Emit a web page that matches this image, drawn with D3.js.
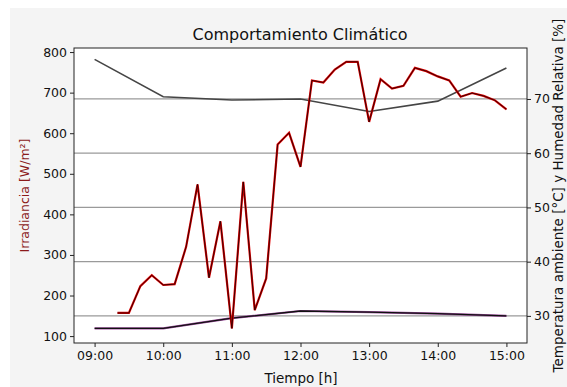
<!DOCTYPE html>
<html>
<head>
<meta charset="utf-8">
<script src="https://cdn.jsdelivr.net/npm/d3@7"></script>
<style>
  html, body { margin: 0; padding: 0; background: #fff; }
  svg { display: block; font-family: "DejaVu Sans", sans-serif; }
</style>
</head>
<body>
<svg id="chart" width="567" height="387"></svg>
<script>
// irradiance, every 10 minutes
const irrTimes = ['09:20','09:30','09:40','09:50','10:00','10:10','10:20','10:30','10:40','10:50',
  '11:00','11:10','11:20','11:30','11:40','11:50','12:00','12:10','12:20','12:30','12:40','12:50',
  '13:00','13:10','13:20','13:30','13:40','13:50','14:00','14:10','14:20','14:30','14:40','14:50','15:00']
const irrValues = [157, 157, 223, 250, 226, 228, 320, 474, 244, 383,
  119, 480, 164, 242, 572, 601, 517, 730, 725, 757, 776, 776,
  628, 733, 710, 717, 761, 753, 740, 730, 690, 699, 692, 681, 659]

// hourly temperature and humidity
const hourTimes = ['09:00','10:00','11:00','12:00','13:00','14:00','15:00']
const tempValues = [27.7, 27.7, 29.6, 30.9, 30.7, 30.4, 30.0]
const humValues = [77.3, 70.4, 69.8, 70.0, 67.7, 69.6, 75.7]

const rightTicks = [30, 40, 50, 60, 70]
const leftTicks = [100, 200, 300, 400, 500, 600, 700, 800]
const xTicks = [9, 10, 11, 12, 13, 14, 15]

const toHours = s => { const [h, m] = s.split(':').map(Number); return h + m / 60 }

const svg = d3.select('#chart')
const W = 567, H = 387
const m = { left: 74, right: 527, top: 48, bottom: 343 }

svg.append('rect').attr('x', 10).attr('y', 8).attr('width', W - 10).attr('height', H - 8).attr('fill', '#f4f4f4')
svg.append('rect').attr('x', m.left).attr('y', m.top)
  .attr('width', m.right - m.left).attr('height', m.bottom - m.top).attr('fill', '#fff')

const x = d3.scaleLinear().domain([8.7, 15.3]).range([m.left, m.right])
const yL = d3.scaleLinear().domain([83, 810]).range([m.bottom, m.top])
const yR = d3.scaleLinear().domain([25, 79.4]).range([m.bottom, m.top])

// grid on the right axis
svg.append('g').selectAll('line').data(rightTicks).join('line')
  .attr('x1', m.left).attr('x2', m.right)
  .attr('y1', d => yR(d)).attr('y2', d => yR(d))
  .attr('stroke', '#9a9a9a').attr('stroke-width', 1.2)

const lineHour = vals => d3.line()
  .x((d, i) => x(toHours(hourTimes[i])))
  .y(d => yR(d))(vals)

svg.append('path').attr('d', lineHour(humValues))
  .attr('fill', 'none').attr('stroke', '#454545').attr('stroke-width', 1.6)

svg.append('path').attr('d', lineHour(tempValues))
  .attr('fill', 'none').attr('stroke', '#9b4a9b').attr('stroke-width', 2.2)
svg.append('path').attr('d', lineHour(tempValues))
  .attr('fill', 'none').attr('stroke', '#111').attr('stroke-width', 1.3)

const irrLine = d3.line()
  .x((d, i) => x(toHours(irrTimes[i])))
  .y(d => yL(d))
svg.append('path').attr('d', irrLine(irrValues))
  .attr('fill', 'none').attr('stroke', '#e00000').attr('stroke-width', 2.2)
svg.append('path').attr('d', irrLine(irrValues))
  .attr('fill', 'none').attr('stroke', '#2a0000').attr('stroke-width', 0.9)

// axes
const fmt = h => d3.format('02d')(h) + ':00'
const gx = svg.append('g').attr('transform', `translate(0,${m.bottom})`)
  .call(d3.axisBottom(x).tickValues(xTicks).tickFormat(fmt).tickSizeOuter(0).tickSize(4).tickPadding(4))
const gl = svg.append('g').attr('transform', `translate(${m.left},0)`)
  .call(d3.axisLeft(yL).tickValues(leftTicks).tickSizeOuter(0).tickSize(4).tickPadding(3))
const gr = svg.append('g').attr('transform', `translate(${m.right},0)`)
  .call(d3.axisRight(yR).tickValues(rightTicks).tickSizeOuter(0).tickSize(4).tickPadding(3))
;[gx, gl, gr].forEach(g => {
  g.selectAll('text').attr('font-size', 12.5).attr('font-family', 'DejaVu Sans').attr('fill', '#111')
  g.selectAll('line').attr('stroke', '#222')
  g.select('.domain').remove()
})

svg.append('rect').attr('x', m.left).attr('y', m.top)
  .attr('width', m.right - m.left).attr('height', m.bottom - m.top)
  .attr('fill', 'none').attr('stroke', '#222').attr('stroke-width', 1)

// labels
svg.append('text').attr('x', 300).attr('y', 40)
  .attr('text-anchor', 'middle').attr('font-size', 16).attr('fill', '#111')
  .text('Comportamiento Climático')
svg.append('text').attr('x', 301).attr('y', 383)
  .attr('text-anchor', 'middle').attr('font-size', 13.5).attr('fill', '#111')
  .text('Tiempo [h]')
svg.append('text')
  .attr('transform', `translate(29,${(m.top + m.bottom) / 2}) rotate(-90)`)
  .attr('text-anchor', 'middle').attr('font-size', 12.5).attr('fill', '#8b1a1a')
  .text('Irradiancia [W/m²]')
svg.append('text')
  .attr('transform', `translate(563,${(m.top + m.bottom) / 2}) rotate(-90)`)
  .attr('text-anchor', 'middle').attr('font-size', 13.5).attr('fill', '#111')
  .text('Temperatura ambiente [°C] y Humedad Relativa [%]')
</script>
</body>
</html>
